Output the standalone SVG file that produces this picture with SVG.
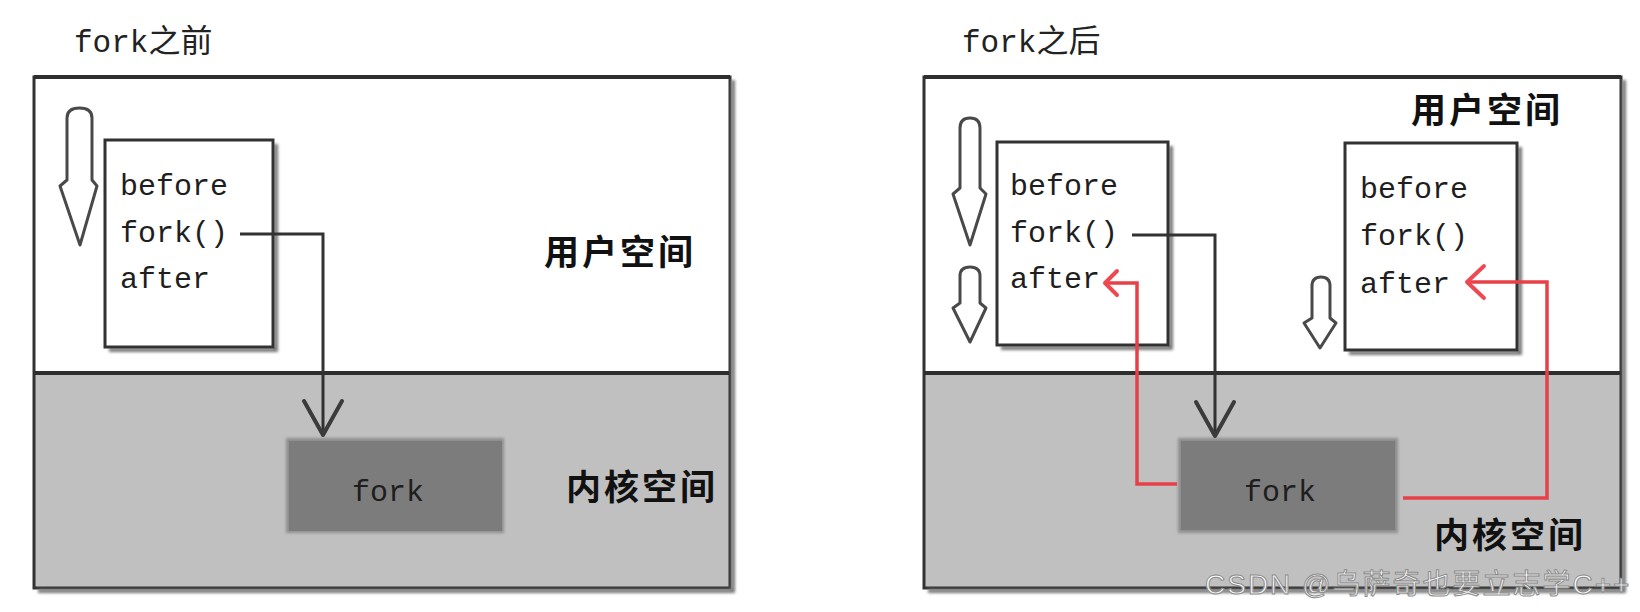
<svg xmlns="http://www.w3.org/2000/svg" width="1640" height="612" viewBox="0 0 1640 612">
<defs>
<filter id="soft" x="-5%" y="-5%" width="110%" height="110%"><feGaussianBlur stdDeviation="0.6"/></filter>
<filter id="shadow" x="-10%" y="-10%" width="120%" height="120%"><feGaussianBlur stdDeviation="1.5"/></filter>
<style>
.title{font-family:"Liberation Mono","Noto Sans CJK SC",monospace;font-size:31px;fill:#222}
.code{font-family:"Liberation Mono","DejaVu Sans Mono",monospace;font-size:30px;fill:#1e1e1e}
.zh{font-family:"Noto Sans CJK SC",sans-serif;font-weight:700;font-size:35px;letter-spacing:3px;fill:#111}
.frame{fill:none;stroke:#333;stroke-width:3}
.topline{fill:none;stroke:#2e2e2e;stroke-width:4}
.kernel{fill:#c0c0c0}
.box{fill:#fff;stroke:#333;stroke-width:3}
.boxsh{fill:none;stroke:#777;stroke-width:4}
.kbox{fill:#7c7c7c}
.kboxsh{fill:#8e8e8e}
.conn{fill:none;stroke:#333;stroke-width:3;stroke-linejoin:miter}
.head{fill:none;stroke:#3a3a3a;stroke-width:4;stroke-linecap:round;stroke-linejoin:round}
.red{fill:none;stroke:#e8404a;stroke-width:3.5;stroke-linejoin:miter}
.redhead{fill:none;stroke:#ee4a52;stroke-width:4;stroke-linecap:round;stroke-linejoin:round}
.harrow{fill:#fff;stroke:#4a4a4a;stroke-width:3;stroke-linejoin:round}
.wm{font-family:"Liberation Sans","Noto Sans CJK SC",sans-serif;font-size:28px;letter-spacing:2px;fill:#fff;fill-opacity:0.92;stroke:#8c8c8c;stroke-width:1}
</style>
</defs>

<g id="panel-before">
  <text class="title" x="74" y="52">fork<tspan font-size="32">之前</tspan></text>
  <rect class="kernel" x="34" y="373" width="696" height="215"/>
  <g filter="url(#soft)">
    <rect class="frame" x="34" y="77" width="696" height="511"/>
    <line class="topline" x1="34" y1="77" x2="730" y2="77"/>
    <line class="topline" x1="34" y1="373" x2="730" y2="373"/>
    <path class="boxsh" d="M38,591 H733 V80" filter="url(#shadow)"/>
  </g>
  <text class="zh" x="544" y="265">用户空间</text>
  <text class="zh" x="566" y="500">内核空间</text>
</g>

<g id="arrow-before" filter="url(#soft)">
  <path class="harrow" d="M67,180 L67,118 Q67,108 79.5,108 Q92,108 92,118 L92,180 L97,186 L80,245 L60,186 Z"/>
</g>

<g id="code-before">
  <path class="boxsh" d="M109,350 H276 V144" filter="url(#shadow)"/>
  <rect class="box" x="105" y="140" width="168" height="207" filter="url(#soft)"/>
  <text class="code" x="120" y="195">before</text>
  <text class="code" x="120" y="242">fork()</text>
  <text class="code" x="120" y="288">after</text>
</g>

<g id="kfork-before">
  <rect class="kboxsh" x="286" y="438" width="218" height="95" filter="url(#shadow)"/>
  <rect class="kbox" x="289" y="441" width="213" height="90"/>
  <text class="code" x="352" y="501">fork</text>
</g>

<g id="panel-after">
  <text class="title" x="962" y="52">fork<tspan font-size="32">之后</tspan></text>
  <rect class="kernel" x="924" y="373" width="697" height="215"/>
  <g filter="url(#soft)">
    <rect class="frame" x="924" y="77" width="697" height="511"/>
    <line class="topline" x1="924" y1="77" x2="1621" y2="77"/>
    <line class="topline" x1="924" y1="373" x2="1621" y2="373"/>
    <path class="boxsh" d="M928,591 H1624 V80" filter="url(#shadow)"/>
  </g>
  <text class="zh" x="1411" y="123">用户空间</text>
  <text class="zh" x="1434" y="548">内核空间</text>
</g>

<g id="arrows-after" filter="url(#soft)">
  <path class="harrow" d="M960,188 L960,128 Q960,118 970,118 Q980,118 980,128 L980,188 L986,194 L970,245 L953,194 Z"/>
  <path class="harrow" d="M960,303 L960,276 Q960,267 970,267 Q980,267 980,276 L980,303 L986,308 L970,342 L953,308 Z"/>
  <path class="harrow" d="M1312,318 L1312,286 Q1312,277 1321,277 Q1330,277 1330,286 L1330,318 L1336,323 L1320,348 L1304,323 Z"/>
</g>

<g id="code-parent">
  <path class="boxsh" d="M1001,348 H1171 V146" filter="url(#shadow)"/>
  <rect class="box" x="997" y="142" width="171" height="203" filter="url(#soft)"/>
  <text class="code" x="1010" y="195">before</text>
  <text class="code" x="1010" y="242">fork()</text>
  <text class="code" x="1010" y="288">after</text>
</g>

<g id="code-child">
  <path class="boxsh" d="M1349,353 H1520 V147" filter="url(#shadow)"/>
  <rect class="box" x="1345" y="143" width="172" height="207" filter="url(#soft)"/>
  <text class="code" x="1360" y="198">before</text>
  <text class="code" x="1360" y="245">fork()</text>
  <text class="code" x="1360" y="293">after</text>
</g>

<g id="kfork-after">
  <rect class="kboxsh" x="1178" y="438" width="220" height="95" filter="url(#shadow)"/>
  <rect class="kbox" x="1181" y="441" width="214" height="89"/>
  <text class="code" x="1244" y="501">fork</text>
</g>

<g id="connectors" filter="url(#soft)">
  <path class="conn" d="M240,234 H323 V435"/>
  <polyline class="head" points="304,401 323,435 342,401"/>
  <path class="conn" d="M1132,235 H1215 V436"/>
  <polyline class="head" points="1196,402 1215,436 1234,402"/>
  <path class="red" d="M1177,484 H1137 V283 H1107"/>
  <polyline class="redhead" points="1117,271 1105,283 1117,295"/>
  <path class="red" d="M1403,498 H1547 V282 H1469"/>
  <polyline class="redhead" points="1484,266 1467,282 1484,298"/>
</g>

<text class="wm" x="1205" y="594">CSDN @乌萨奇也要立志学C++</text>
</svg>
